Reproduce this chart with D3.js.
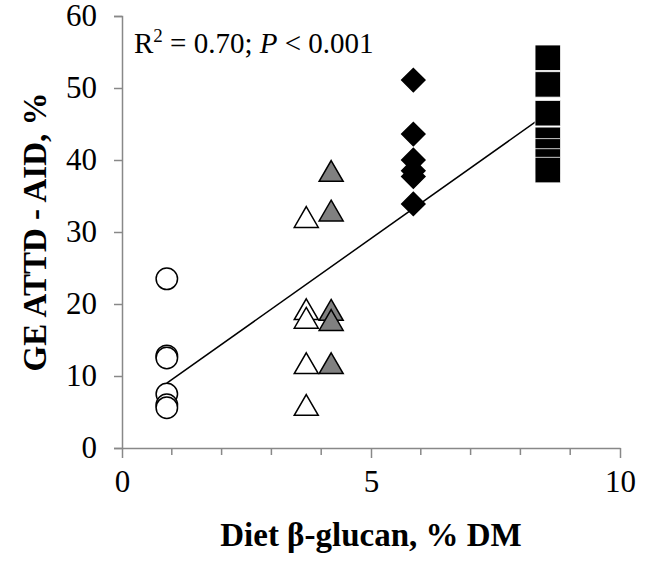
<!DOCTYPE html>
<html>
<head>
<meta charset="utf-8">
<script src="https://cdn.jsdelivr.net/npm/d3@7"></script>
<style>
  body { margin: 0; background: #fff; }
  svg text { font-family: "Liberation Serif", "Times New Roman", serif; }
</style>
</head>
<body>
<div id="chart"></div>
<script>
  // diet beta-glucan levels (x) for each diet group
  var circleX = 0.9, openTriX = 3.7, grayTriX = 4.2, diamondX = 5.85, squareX = 8.55

  // GE ATTD - AID values
  var circleY = [23.5, 12.8, 12.5, 7.5, 6.0, 5.6]
  var openTriY = [31.6, 18.8, 17.6, 11.3, 5.5]
  var grayTriY = [38.0, 32.5, 18.7, 17.3, 11.3]
  var diamondY = [51.1, 43.6, 40.0, 38.5, 37.7, 33.9]
  var squareY = [54.2, 50.5, 46.5, 42.8, 41.2, 39.8, 38.6]

  // fitted line endpoints
  var lineX = [0.9, 8.55]
  var lineY = [9.0, 46.5]

  var yTicks = [0, 10, 20, 30, 40, 50, 60]
  var xMajor = [0, 5, 10]
  var xMinor = [1, 2, 3, 4, 6, 7, 8, 9]

  var width = 654, height = 562
  var serif = "'Liberation Serif', 'Times New Roman', serif"

  var svg = d3.select("#chart").append("svg")
    .attr("width", width)
    .attr("height", height)

  var x = d3.scaleLinear().domain([0, 10]).range([122, 620])
  var y = d3.scaleLinear().domain([0, 60]).range([448, 16])

  var axisColor = "#888"

  // y axis
  var yAxis = d3.axisLeft(y).tickValues(yTicks).tickSize(8).tickPadding(17)
  var gy = svg.append("g")
    .attr("transform", "translate(" + x(0) + ",0)")
    .call(yAxis)
  gy.select(".domain").attr("stroke", axisColor).attr("stroke-width", 1.5)
  gy.selectAll(".tick line").attr("stroke", axisColor).attr("stroke-width", 1.5)
  gy.selectAll(".tick text")
    .style("font-family", serif)
    .style("font-size", "31px").attr("fill", "#000")

  // x axis
  var xAxis = d3.axisBottom(x).tickValues(xMajor).tickSize(10).tickPadding(12).tickSizeOuter(0)
  var gx = svg.append("g")
    .attr("transform", "translate(0," + y(0) + ")")
    .call(xAxis)
  gx.select(".domain").attr("stroke", axisColor).attr("stroke-width", 1.5)
  gx.selectAll(".tick line").attr("stroke", axisColor).attr("stroke-width", 1.5)
  gx.selectAll(".tick text")
    .style("font-family", serif)
    .style("font-size", "31px").attr("fill", "#000")

  gx.selectAll(".minor")
    .data(xMinor)
    .enter().append("line")
    .attr("class", "minor")
    .attr("x1", function (d) { return x(d) })
    .attr("x2", function (d) { return x(d) })
    .attr("y1", 0).attr("y2", 7)
    .attr("stroke", axisColor).attr("stroke-width", 1.5)

  // regression line
  svg.append("line")
    .attr("x1", x(lineX[0])).attr("y1", y(lineY[0]))
    .attr("x2", x(lineX[1])).attr("y2", y(lineY[1]))
    .attr("stroke", "#000").attr("stroke-width", 1.5)

  function addGroup(xv, ys, type, size, fill, rotate) {
    var sym = d3.symbol().type(type).size(size)
    svg.append("g").selectAll("path")
      .data(ys)
      .enter().append("path")
      .attr("d", sym)
      .attr("transform", function (d) {
        return "translate(" + x(xv) + "," + y(d) + ")" + (rotate ? " rotate(45)" : "")
      })
      .attr("fill", fill)
      .attr("stroke", "#000")
      .attr("stroke-width", 1.5)
  }

  addGroup(circleX, circleY, d3.symbolCircle, 360, "#fff")
  addGroup(openTriX, openTriY, d3.symbolTriangle, 250, "#fff")
  addGroup(grayTriX, grayTriY, d3.symbolTriangle, 250, "#808080")
  addGroup(diamondX, diamondY, d3.symbolSquare, 270, "#000", true)

  // squares drawn with thin white outline like the original
  var sq = d3.symbol().type(d3.symbolSquare).size(650)
  svg.append("g").selectAll("path")
    .data(squareY)
    .enter().append("path")
    .attr("d", sq)
    .attr("transform", function (d) { return "translate(" + x(squareX) + "," + y(d) + ")" })
    .attr("fill", "#000")
    .attr("stroke", "#fff")
    .attr("stroke-width", 0.8)

  // annotation
  var ann = svg.append("text")
    .attr("x", 134).attr("y", 53)
    .attr("font-size", 29)
  ann.append("tspan").text("R")
  ann.append("tspan").attr("font-size", 19).attr("dy", -11).text("2")
  ann.append("tspan").attr("dy", 11).text(" = 0.70; ")
  ann.append("tspan").attr("font-style", "italic").text("P")
  ann.append("tspan").text(" < 0.001")

  // axis titles
  svg.append("text")
    .attr("x", 371).attr("y", 546)
    .attr("text-anchor", "middle")
    .attr("font-size", 33).attr("font-weight", "bold")
    .text("Diet β-glucan, % DM")

  svg.append("text")
    .attr("transform", "translate(46,232) rotate(-90)")
    .attr("text-anchor", "middle")
    .attr("font-size", 33).attr("font-weight", "bold")
    .text("GE ATTD - AID, %")
</script>
</body>
</html>
